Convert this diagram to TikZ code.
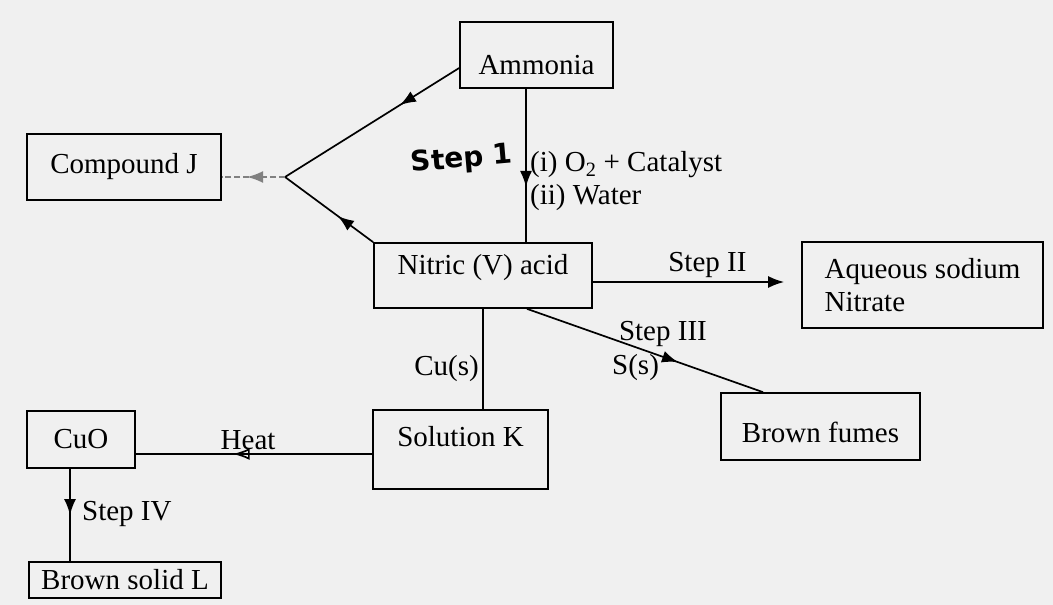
\documentclass[tikz,border=0pt]{standalone}
\usepackage{fontspec}
\setmainfont{Liberation Serif}
\newfontfamily\handfont{DejaVu Sans}
\usepackage{tikz}
\usetikzlibrary{arrows.meta,decorations.markings}

\tikzset{
  midarrow/.style={postaction={decorate},
    decoration={markings, mark=at position #1 with {\arrow{Latex[length=16pt,width=12pt]}}}},
  openarrow/.style={postaction={decorate},
    decoration={markings, mark=at position #1 with {\arrow{Latex[open,length=17pt,width=12pt]}}}}
}

\begin{document}
\begin{tikzpicture}[
  x=1pt, y=-1pt,
  box/.style={draw, line width=1.7pt, inner sep=3pt},
  line/.style={line width=1.7pt},
  arrow/.style={-{Latex[length=16pt,width=12pt]}, line width=1.7pt},
  every node/.style={font=\fontsize{29}{33}\selectfont}
]
\fill[black!6] (0,0) rectangle (1053,605);
\useasboundingbox (0,0) rectangle (1053,605);

% boxes
\node[box, minimum width=153pt, minimum height=66pt, text height=39pt] (ammonia) at (536.5,55) {Ammonia};
\node[box, minimum width=194pt, minimum height=66pt] (compJ) at (124,167) {Compound J};
\node[box, minimum width=218pt, minimum height=65pt, text depth=23pt] (nitric) at (483,275.5) {Nitric (V) acid};
\node[box, minimum width=241pt, minimum height=86pt, align=left] (aqueous) at (922.5,285) {Aqueous sodium\\Nitrate};
\node[box, minimum width=199pt, minimum height=67pt, text height=32pt] (fumes) at (820.5,426.5) {Brown fumes};
\node[box, minimum width=175pt, minimum height=79pt, text depth=27pt] (solK) at (460.5,449.5) {Solution K};
\node[box, minimum width=108pt, minimum height=57pt] (cuo) at (81,439.5) {CuO};
\node[box, minimum width=192pt, minimum height=36pt] (brsolid) at (125,580) {Brown solid L};

\coordinate (junc) at (285,177);

% ammonia and nitric acid both lead to compound J
\draw[line, midarrow=0.34] ([yshift=-13pt]ammonia.west) -- (junc);
\draw[line, midarrow=0.4] (nitric.north west) -- (junc);
\draw[line, gray, dash pattern=on 6pt off 3pt, midarrow=0.6] (junc) -- (junc -| compJ.east);

% step 1
\draw[line, midarrow=0.64] ([xshift=-10.5pt]ammonia.south) -- ([xshift=-10.5pt]ammonia.south |- nitric.north)
  node[right, pos=0.6, align=left] (cond) {(i) O\textsubscript{2} + Catalyst\\(ii) Water};
\node[font=\handfont\bfseries\fontsize{28}{30}\selectfont, rotate=5] (stepone) at (462,160) {Step 1};

% steps II and III
\draw[arrow, shorten >=17pt] ([yshift=-6.5pt]nitric.east) -- ([yshift=-6.5pt]nitric.east -| aqueous.west)
  node[above, pos=0.55] (stepii) {Step II};
\draw[line, midarrow=0.64] ([xshift=44pt]nitric.south) -- ([xshift=-57.5pt]fumes.north)
  node[above=6pt, pos=0.576] (stepiii) {Step III}
  node[below=3pt, pos=0.46] (sulfur) {S(s)};

% copper branch
\draw[line] (nitric.south) -- (nitric.south |- solK.north)
  node[left, pos=0.59] (copper) {Cu(s)};
\draw[line, openarrow=0.59] ([yshift=-4.5pt]solK.west) -- ([yshift=-4.5pt]solK.west -| cuo.east)
  node[above, pos=0.525] (heat) {Heat};
\draw[line, midarrow=0.5] ([xshift=-11pt]cuo.south) -- ([xshift=-11pt]cuo.south |- brsolid.north)
  node[right=8pt, pos=0.49] (stepiv) {Step IV};

\end{tikzpicture}
\end{document}
